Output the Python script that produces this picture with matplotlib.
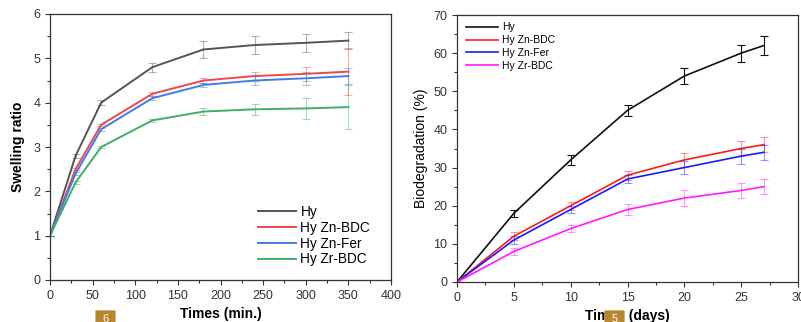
import matplotlib
matplotlib.use("Agg")
import matplotlib.pyplot as plt
from matplotlib.patches import FancyBboxPatch
from matplotlib.ticker import MultipleLocator

plt.rcParams['font.family'] = ['Liberation Sans', 'DejaVu Sans']

# swelling data
t_min = [0, 30, 60, 120, 180, 240, 300, 350]
sw_hy = [1, 2.8, 4.0, 4.8, 5.2, 5.3, 5.35, 5.4]
sw_hy_err = [0, 0.05, 0.06, 0.1, 0.2, 0.2, 0.2, 0.2]
sw_znbdc = [1, 2.5, 3.5, 4.2, 4.5, 4.6, 4.65, 4.7]
sw_znbdc_err = [0, 0.03, 0.03, 0.04, 0.05, 0.1, 0.15, 0.53]
sw_znfer = [1, 2.4, 3.4, 4.1, 4.4, 4.5, 4.55, 4.6]
sw_znfer_err = [0, 0.03, 0.03, 0.04, 0.05, 0.1, 0.15, 0.18]
sw_zrbdc = [1, 2.2, 3.0, 3.6, 3.8, 3.85, 3.87, 3.9]
sw_zrbdc_err = [0, 0.03, 0.03, 0.04, 0.07, 0.12, 0.23, 0.5]

# biodegradation data
t_days = [0, 5, 10, 15, 20, 25, 27]
bd_hy = [0, 18, 32, 45, 54, 60, 62]
bd_hy_err = [0, 1, 1.2, 1.5, 2, 2.2, 2.5]
bd_znbdc = [0, 12, 20, 28, 32, 35, 36]
bd_znbdc_err = [0, 1, 1, 1.2, 1.8, 2, 2]
bd_znfer = [0, 11, 19, 27, 30, 33, 34]
bd_znfer_err = [0, 1, 1, 1, 1.8, 2, 2]
bd_zrbdc = [0, 8, 14, 19, 22, 24, 25]
bd_zrbdc_err = [0, 1, 1, 1.5, 2, 2, 2]

labels = ['Hy', 'Hy Zn-BDC', 'Hy Zn-Fer', 'Hy Zr-BDC']

W, H = 801, 322
fig = plt.figure(figsize=(W / 100, H / 100), dpi=100)


def style_axes(ax):
    for s in ax.spines.values():
        s.set_linewidth(0.9)
        s.set_color('#333333')
    ax.tick_params(which='both', direction='out', top=False, right=False,
                   colors='#333333', labelsize=9, width=0.8)
    ax.tick_params(which='major', length=3.5)
    ax.tick_params(which='minor', length=2)


# left panel: swelling ratio
ax1 = fig.add_axes([50 / W, (H - 280) / H, 341 / W, 266 / H])
sw_sets = [(sw_hy, sw_hy_err, '#555555'), (sw_znbdc, sw_znbdc_err, '#f0474a'),
           (sw_znfer, sw_znfer_err, '#3d7fe6'), (sw_zrbdc, sw_zrbdc_err, '#3fae6a')]
for (y, e, c), lab in zip(sw_sets, labels):
    ax1.errorbar(t_min, y, yerr=e, fmt='none', ecolor=c, elinewidth=0.8,
                 capsize=3, capthick=0.8, alpha=0.45)
    ax1.plot(t_min, y, color=c, lw=1.4, label=lab)
ax1.set_xlim(0, 400)
ax1.set_ylim(0, 6)
ax1.xaxis.set_major_locator(MultipleLocator(50))
ax1.xaxis.set_minor_locator(MultipleLocator(25))
ax1.yaxis.set_major_locator(MultipleLocator(1))
ax1.yaxis.set_minor_locator(MultipleLocator(0.5))
style_axes(ax1)
ax1.set_xlabel('Times (min.)', fontsize=10, fontweight='bold', labelpad=4)
ax1.set_ylabel('Swelling ratio', fontsize=10, fontweight='bold', labelpad=6)
ax1.legend(loc='lower right', bbox_to_anchor=(0.975, 0.005), frameon=False,
           fontsize=9.8, handlelength=2.8, handletextpad=0.3, labelspacing=0.13)

# right panel: biodegradation
ax2 = fig.add_axes([457 / W, (H - 282) / H, 341 / W, 267 / H])
bd_sets = [(bd_hy, bd_hy_err, '#111111', 1.0), (bd_znbdc, bd_znbdc_err, '#ff1a1a', 0.45),
           (bd_znfer, bd_znfer_err, '#1a1aff', 0.45), (bd_zrbdc, bd_zrbdc_err, '#ff1aff', 0.45)]
for (y, e, c, a), lab in zip(bd_sets, labels):
    ax2.errorbar(t_days, y, yerr=e, fmt='none', ecolor=c, elinewidth=0.8,
                 capsize=3, capthick=0.8, alpha=a)
    ax2.plot(t_days, y, color=c, lw=1.2, label=lab)
ax2.set_xlim(0, 30)
ax2.set_ylim(0, 70)
ax2.xaxis.set_major_locator(MultipleLocator(5))
ax2.xaxis.set_minor_locator(MultipleLocator(2.5))
ax2.yaxis.set_major_locator(MultipleLocator(10))
ax2.yaxis.set_minor_locator(MultipleLocator(5))
style_axes(ax2)
ax2.set_xlabel('Times (days)', fontsize=10, fontweight='bold', labelpad=4)
ax2.set_ylabel('Biodegradation (%)', fontsize=10, labelpad=4)
ax2.legend(loc='upper left', bbox_to_anchor=(0.0, 1.008), frameon=False,
           fontsize=7.5, handlelength=3.0, handletextpad=0.4, labelspacing=0.28)

# little gold badges from the source image
for x0, txt in [(97, '6'), (606, '5')]:
    fig.patches.append(FancyBboxPatch((x0 / W, 0 / H), 17 / W, 11 / H,
                                      boxstyle='round,pad=0.002', transform=fig.transFigure,
                                      fc='#b8862e', ec='none', figure=fig))
    fig.text((x0 + 8.5) / W, -2 / H, txt, color='white', fontsize=8, ha='center', va='bottom')

fig.savefig('out.png', dpi=100)
